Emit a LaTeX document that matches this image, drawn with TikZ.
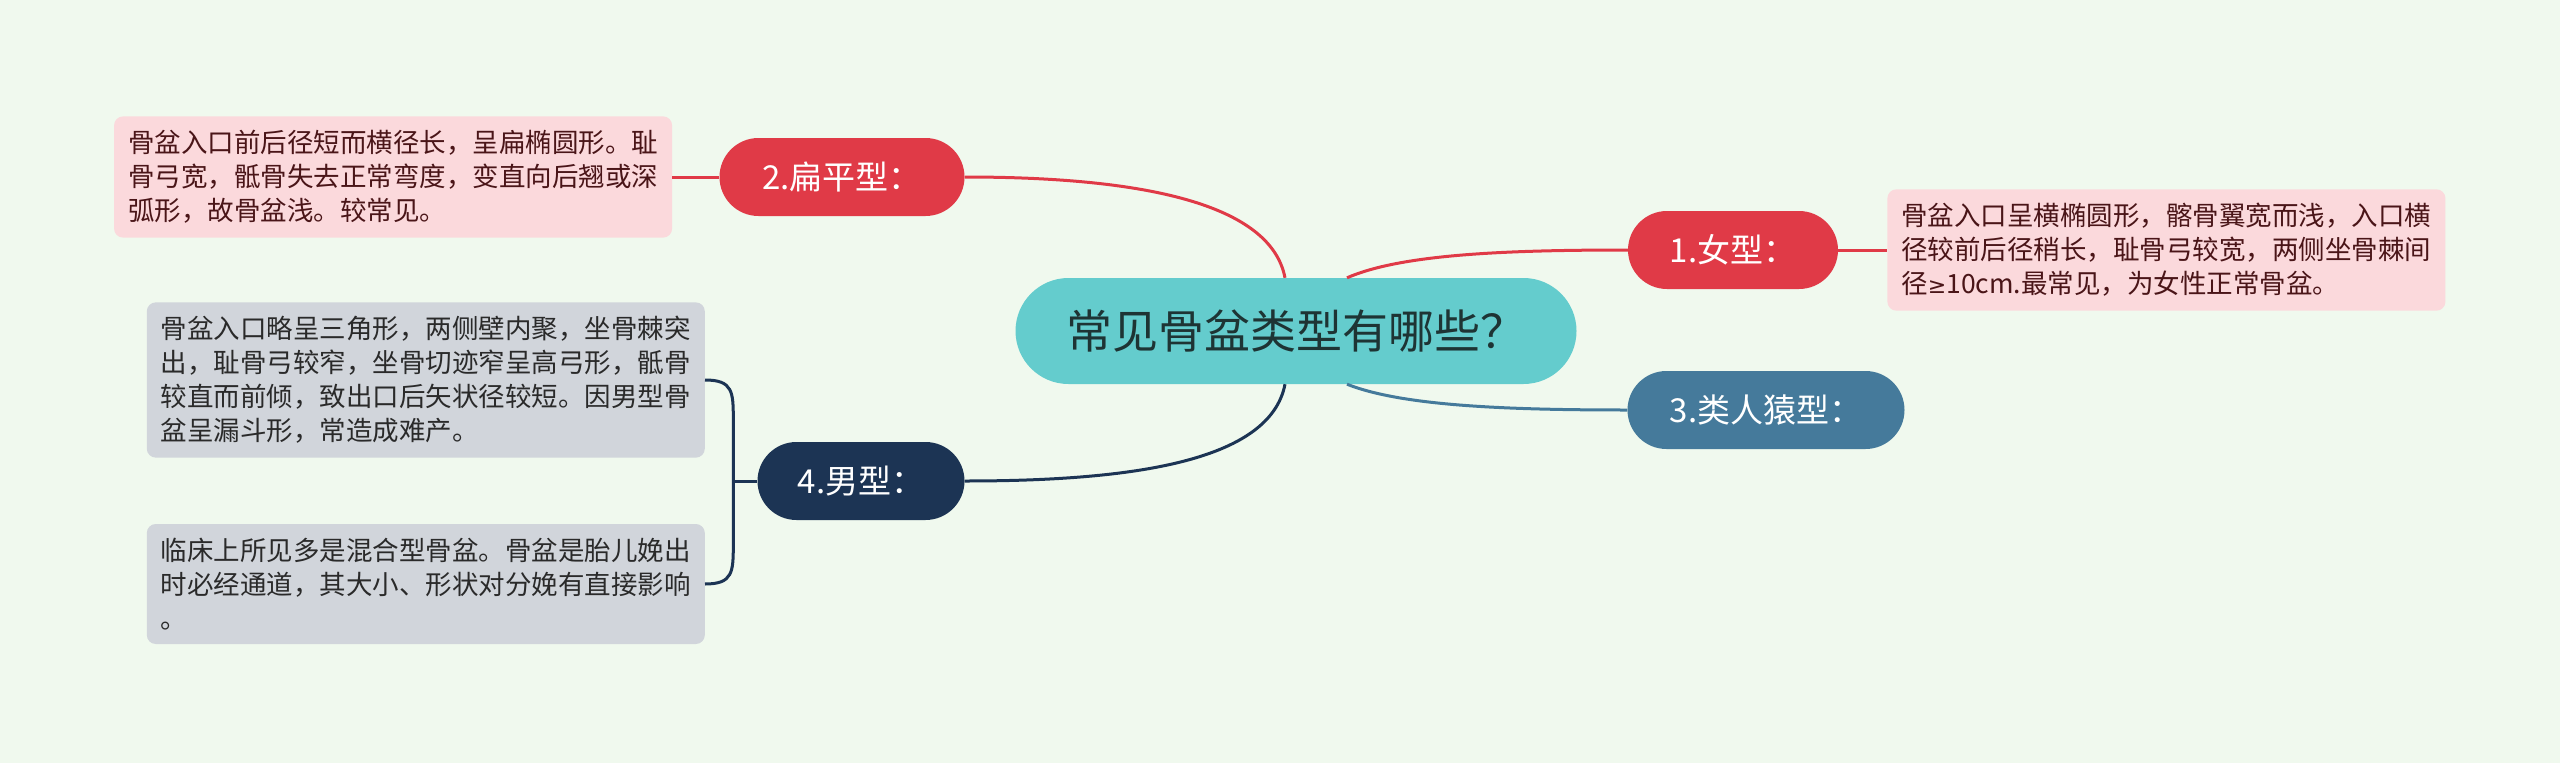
\documentclass[tikz,border=0pt]{standalone}
\usepackage{fontspec}
\setmainfont{Noto Sans CJK SC}
\newfontfamily\symfont{DejaVu Sans}
\usetikzlibrary{positioning,calc}
\definecolor{bgc}{HTML}{F0F9EE}
\definecolor{tealc}{HTML}{64CCCD}
\definecolor{redc}{HTML}{E03A47}
\definecolor{bluec}{HTML}{457A9B}
\definecolor{navyc}{HTML}{1C3454}
\definecolor{pinkc}{HTML}{FBD9DC}
\definecolor{greyc}{HTML}{D1D5DB}
\definecolor{maroonc}{HTML}{4A1518}
\definecolor{inkc}{HTML}{2A2A2A}
\definecolor{rootink}{HTML}{1E3434}

\begin{document}
\begin{tikzpicture}[x=1pt,y=-1pt,
  topic/.style={fill=tealc,text=rootink,minimum width=561pt,minimum height=106pt,
    rounded corners=53pt,inner sep=0pt,font=\fontsize{46pt}{52pt}\selectfont},
  branch/.style={minimum height=78pt,rounded corners=39pt,inner sep=0pt,text=white,
    font=\fontsize{33pt}{38pt}\selectfont},
  note/.style={rounded corners=9pt,text width=530pt,inner xsep=14pt,inner ysep=14pt,
    align=left,font=\fontsize{26.5pt}{34pt}\selectfont},
  pinknote/.style={note,fill=pinkc,text=maroonc},
  greynote/.style={note,fill=greyc,text=inkc},
  link/.style={line width=3pt}]
  \fill[bgc] (0,0) rectangle (2560,763);

  \node[topic] (root) at (1296,331) {常见骨盆类型有哪些？};
  \node[branch,fill=redc,minimum width=245pt] (flat) at (842,177) {2.扁平型：};
  \node[branch,fill=redc,minimum width=210pt] (female) at (1733,250) {1.女型：};
  \node[branch,fill=bluec,minimum width=277pt] (ape) at (1766,410) {3.类人猿型：};
  \node[branch,fill=navyc,minimum width=207pt] (male) at (861,481) {4.男型：};

  \node[pinknote,left=47pt of flat] (flatnote)
    {骨盆入口前后径短而横径长，呈扁椭圆形。耻\\骨弓宽，骶骨失去正常弯度，变直向后翘或深\\弧形，故骨盆浅。较常见。};
  \node[pinknote,right=49pt of female] (femalenote)
    {骨盆入口呈横椭圆形，髂骨翼宽而浅，入口横\\径较前后径稍长，耻骨弓较宽，两侧坐骨棘间\\径{\symfont\fontsize{22pt}{34pt}\selectfont ≥}10cm.最常见，为女性正常骨盆。};
  \node[greynote,anchor=east] (malenoteA) at (705,380)
    {骨盆入口略呈三角形，两侧壁内聚，坐骨棘突\\出，耻骨弓较窄，坐骨切迹窄呈高弓形，骶骨\\较直而前倾，致出口后矢状径较短。因男型骨\\盆呈漏斗形，常造成难产。};
  \node[greynote,anchor=east] (malenoteB) at (705,584)
    {临床上所见多是混合型骨盆。骨盆是胎儿娩出\\时必经通道，其大小、形状对分娩有直接影响\\。};

  \draw[link,redc] ([xshift=-11pt]root.north) .. controls +(-15,-78) and +(165,0) .. (flat.east);
  \draw[link,navyc] ([xshift=-11pt]root.south) .. controls +(-15,78) and +(165,0) .. (male.east);
  \draw[link,redc] ([xshift=51pt]root.north) .. controls +(53,-23) and +(-128,0) .. (female.west);
  \draw[link,bluec] ([xshift=51pt]root.south) .. controls +(53,21) and +(-128,0) .. (ape.west);

  \draw[link,redc] (flat.west) -- (flatnote.east);
  \draw[link,redc] (female.east) -- (femalenote.west);

  \coordinate (fork) at ([xshift=-24pt]male.west);
  \draw[link,navyc] (male.west) -- (fork);
  \draw[link,navyc] (malenoteA.east) .. controls +(28,0) and +(0,-28) .. ($(fork |- malenoteA.east)+(0,40)$)
    -- ($(fork |- malenoteB.east)+(0,-40)$) .. controls +(0,28) and +(28,0) .. (malenoteB.east);
\end{tikzpicture}
\end{document}
